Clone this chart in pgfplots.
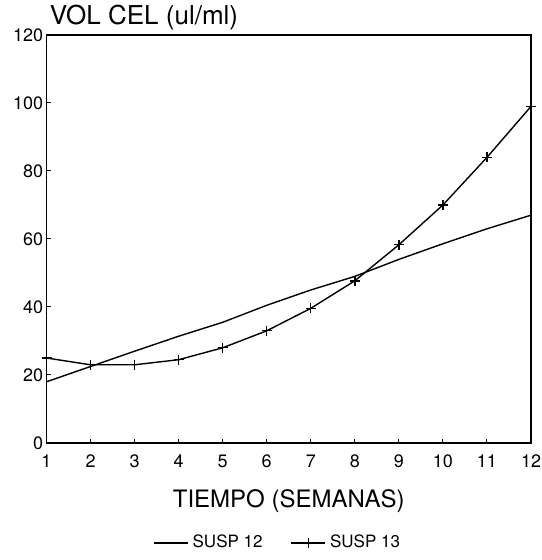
\documentclass[border=0pt]{standalone}
\usepackage{fontspec}
\setmainfont{TeX Gyre Heros}
\usepackage{pgfplots}
\pgfplotsset{compat=1.18}

\begin{document}
\begin{tikzpicture}
\begin{axis}[
  name=ax,
  scale only axis,
  width=242.25pt, height=204pt,
  xmin=1, xmax=12,
  ymin=0, ymax=120,
  xtick={1,2,...,12},
  ytick={0,20,...,120},
  tick align=inside,
  xtick pos=bottom, ytick pos=left,
  major tick length=2pt,
  axis line style={line width=0.6pt},
  every tick/.style={black, line width=0.5pt},
  /pgf/number format/assume math mode=true,
  tick label style={font=\fontsize{9}{10}\selectfont},
  xticklabel style={yshift=-2.5pt},
  yticklabel style={inner sep=1.5pt},
  xlabel={TIEMPO (SEMANAS)},
  xlabel style={font=\fontsize{12}{14}\selectfont, yshift=-4pt},
  clip=false,
  legend style={
    at={(0.479,-0.245)}, anchor=center,
    draw=none, fill=none,
    font=\fontsize{8.5}{10}\selectfont,
    legend columns=2,
    /tikz/every even column/.append style={column sep=12pt},
  },
  legend cell align=left,
]
\addplot[black, line width=0.7pt] coordinates {
  (1,18) (2,22.5) (3,27) (4,31.4) (5,35.5) (6,40.5)
  (7,45) (8,49) (9,54) (10,58.6) (11,63) (12,67)
};
\addlegendentry{SUSP 12}
\addplot[black, line width=0.7pt, mark=+, mark size=2.5pt, mark options={line width=0.7pt}] coordinates {
  (1,25) (2,23) (3,23) (4,24.5) (5,28) (6,33)
  (7,39.6) (8,47.7) (9,58.3) (10,70) (11,84) (12,99)
};
\addlegendentry{SUSP 13}
\node[anchor=base west, font=\fontsize{13}{15}\selectfont, inner sep=0pt]
  at ([xshift=1.5pt, yshift=5pt]rel axis cs:0,1) {VOL CEL (ul/ml)};
\end{axis}
\pgfresetboundingbox
\path ([shift={(-23.25pt,-58.5pt)}]ax.south west) rectangle ([shift={(5pt,17.5pt)}]ax.north east);
\end{tikzpicture}
\end{document}
